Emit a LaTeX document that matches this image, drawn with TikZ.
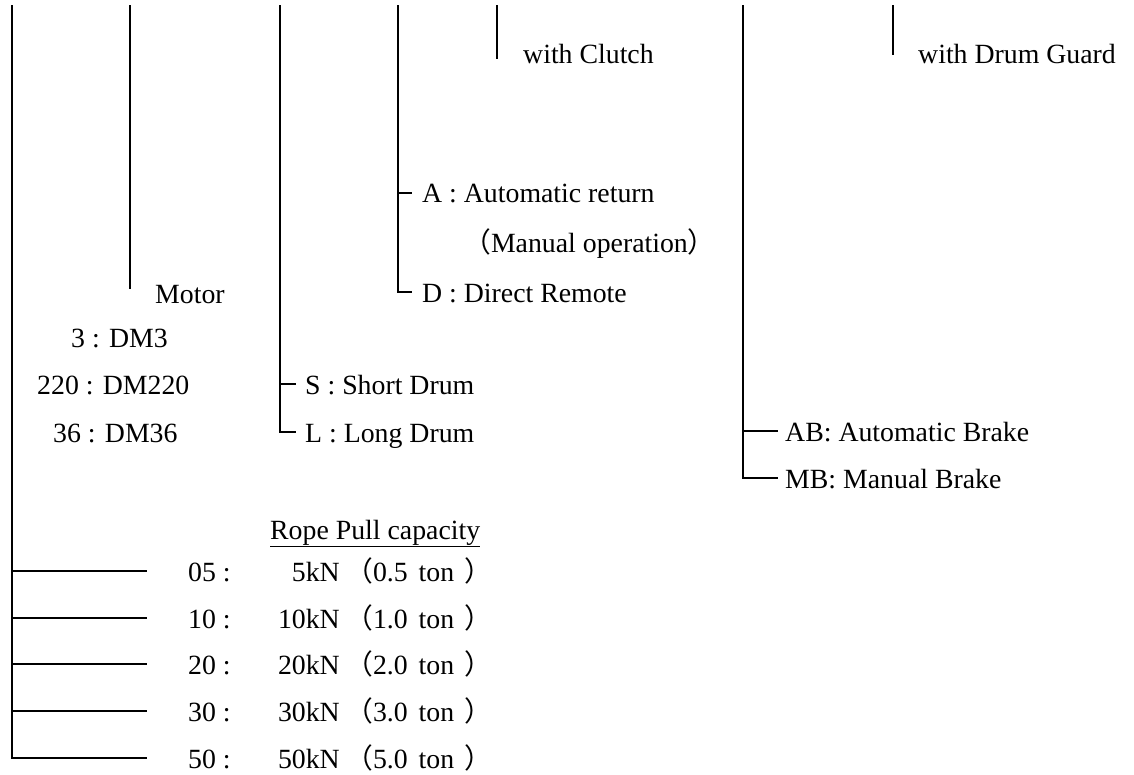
\documentclass[tikz,border=0pt]{standalone}
\usepackage{fontspec}
\setmainfont{Liberation Serif}
\newfontfamily\cjk{Noto Sans CJK JP}
\newcommand{\fs}{\fontsize{27.8}{33}\selectfont}
\begin{document}
\begin{tikzpicture}[x=1pt,y=-1pt,
  txt/.style={inner sep=0pt, anchor=base west, font=\fs},
  txe/.style={inner sep=0pt, anchor=base east, font=\fs},
  ln/.style={line width=1.2pt, line cap=rect}]
\useasboundingbox[fill=white] (0,0) rectangle (1134,775);

% texts
\node[txt] (clutch) at (523,64) {with Clutch};
\node[txt] (guard) at (918,64) {with Drum Guard};
\node[txt] (optA) at (422,203) {A : Automatic return};
\node[txt] (optM) at (463,253) {{\cjk （}Manual operation{\cjk ）}};
\node[txt] (optD) at (422,302) {D : Direct Remote};
\node[txt] (motor) at (155,304) {Motor};
\node[txt] (m3) at (71,347) {3 : DM3};
\node[txt] (m220) at (37,394) {220 : DM220};
\node[txt] (m36) at (53,442) {36 : DM36};
\node[txt] (drS) at (305,394) {S : Short Drum};
\node[txt] (drL) at (305,442) {L : Long Drum};
\node[txt] (brA) at (785,441) {AB: Automatic Brake};
\node[txt] (brM) at (785,488) {MB: Manual Brake};
\node[txt] (rope) at (270,539) {\underline{Rope Pull capacity}};

\foreach \c/\k/\t/\y in {05/5/0.5/571, 10/10/1.0/618, 20/20/2.0/664, 30/30/3.0/711, 50/50/5.0/758}{
  \node[txt] (code\c) at (188,\y+10) {\c\ :};
  \node[txe] (kn\c) at (340,\y+10) {\k kN};
  \node[txt] (ton\c) at (345,\y+10) {{\cjk （}\t\hspace{11pt}ton\hspace{10pt}{\cjk ）}};
}

% coordinates of line ends
\coordinate (top1) at (12,6);
\coordinate (top2) at (130,6);
\coordinate (bot2) at (130,288);
\coordinate (top3) at (280,6);
\coordinate (top4) at (398,6);
\coordinate (top5) at (497,6);
\coordinate (bot5) at (497,58);
\coordinate (top6) at (743,6);
\coordinate (top7) at (893,6);
\coordinate (bot7) at (893,54);

\coordinate (eS) at (295,384);
\coordinate (eL) at (295,432);
\coordinate (eA) at (411,193);
\coordinate (eD) at (411,292);
\coordinate (eAB) at (777,431);
\coordinate (eMB) at (777,478);
\foreach \c/\y in {05/571, 10/618, 20/664, 30/711, 50/758}{
  \coordinate (e\c) at (146,\y);
}

% lines
\draw[ln] (top1) |- (e50);
\foreach \c in {05,10,20,30}{ \draw[ln] (top1 |- e\c) -- (e\c); }
\draw[ln] (top2) -- (bot2);
\draw[ln] (top3) |- (eL);
\draw[ln] (top3 |- eS) -- (eS);
\draw[ln] (top4) |- (eD);
\draw[ln] (top4 |- eA) -- (eA);
\draw[ln] (top5) -- (bot5);
\draw[ln] (top6) |- (eMB);
\draw[ln] (top6 |- eAB) -- (eAB);
\draw[ln] (top7) -- (bot7);
\end{tikzpicture}
\end{document}
